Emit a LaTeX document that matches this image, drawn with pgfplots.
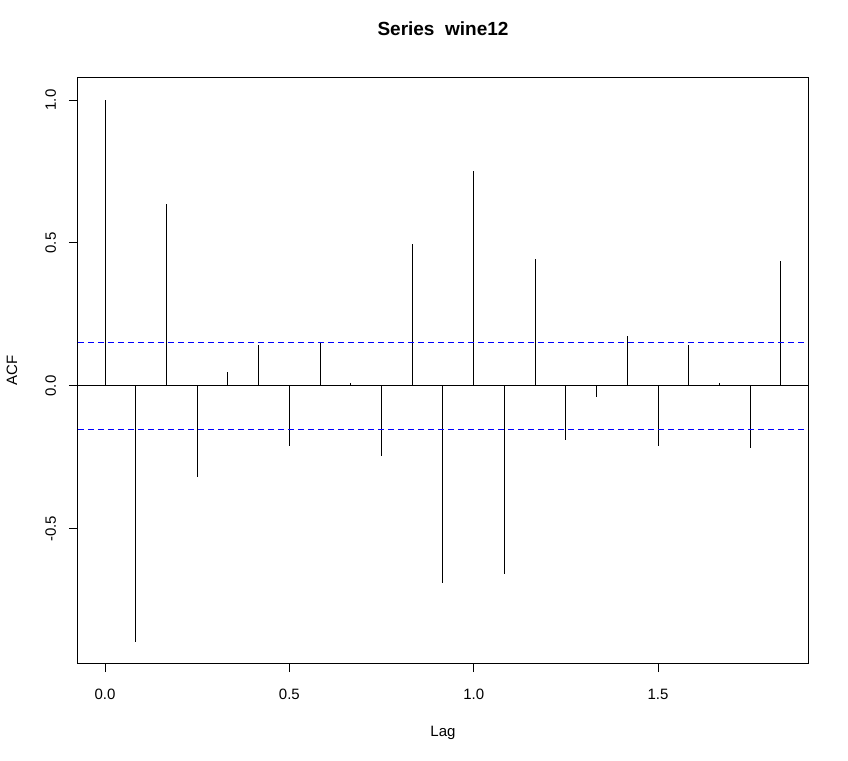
\documentclass[border=0pt]{standalone}
\usepackage{pgfplots}
\pgfplotsset{compat=1.18}
\usepackage{fontspec}
\setmainfont{Liberation Sans}
\begin{document}
\begin{tikzpicture}
\begin{axis}[
  scale only axis,
  width=730bp, height=585bp,
  xmin=-0.0733, xmax=1.9067,
  ymin=-0.969, ymax=1.077,
  axis line style={black, line width=1bp},
  xtick={0,0.5,1,1.5},
  ytick={-0.5,0,0.5,1},
  xticklabels={0.0,0.5,1.0,1.5},
  yticklabels={-0.5,0.0,0.5,1.0},
  xtick pos=lower, ytick pos=left,
  tick align=outside,
  major tick length=9bp,
  tick style={black, line width=1bp},
  xticklabel style={font=\fontsize{15bp}{18bp}\selectfont, anchor=base, inner sep=0pt, yshift=-27bp},
  yticklabel style={font=\fontsize{15bp}{18bp}\selectfont, anchor=base, inner sep=0pt, xshift=-13bp, rotate=90},
  title={Series\ \ wine12},
  title style={font=\fontsize{19bp}{22bp}\selectfont\bfseries, at={(axis description cs:0.5,1)}, anchor=base, yshift=37bp},
  xlabel={Lag},
  xlabel style={font=\fontsize{15bp}{18bp}\selectfont, at={(axis description cs:0.5,0)}, anchor=base, yshift=-73bp},
  ylabel={ACF},
  ylabel style={font=\fontsize{15bp}{18bp}\selectfont, at={(axis description cs:-0.08356,0.5)}, anchor=base, rotate=0},
]
\addplot[ycomb, black, line width=1bp, mark=none] coordinates {
(0.00000,1.000) (0.08333,-0.894) (0.16667,0.636) (0.25000,-0.318)
(0.33333,0.047) (0.41667,0.143) (0.50000,-0.209) (0.58333,0.151)
(0.66667,0.012) (0.75000,-0.244) (0.83333,0.497) (0.91667,-0.688)
(1.00000,0.753) (1.08333,-0.656) (1.16667,0.444) (1.25000,-0.188)
(1.33333,-0.037) (1.41667,0.175) (1.50000,-0.209) (1.58333,0.143)
(1.66667,0.010) (1.75000,-0.216) (1.83333,0.437)
};
\addplot[black, line width=1bp, mark=none] coordinates {(-0.0733,0) (1.9067,0)};
\addplot[blue, line width=1bp, dash pattern=on 6bp off 4bp, mark=none] coordinates {(-0.0733,0.153) (1.9067,0.153)};
\addplot[blue, line width=1bp, dash pattern=on 6bp off 4bp, mark=none] coordinates {(-0.0733,-0.153) (1.9067,-0.153)};
\end{axis}
\pgfresetboundingbox
\path ([shift={(-78bp,-98bp)}]current axis.south west) rectangle ([shift={(40bp,78bp)}]current axis.north east);
\end{tikzpicture}
\end{document}
